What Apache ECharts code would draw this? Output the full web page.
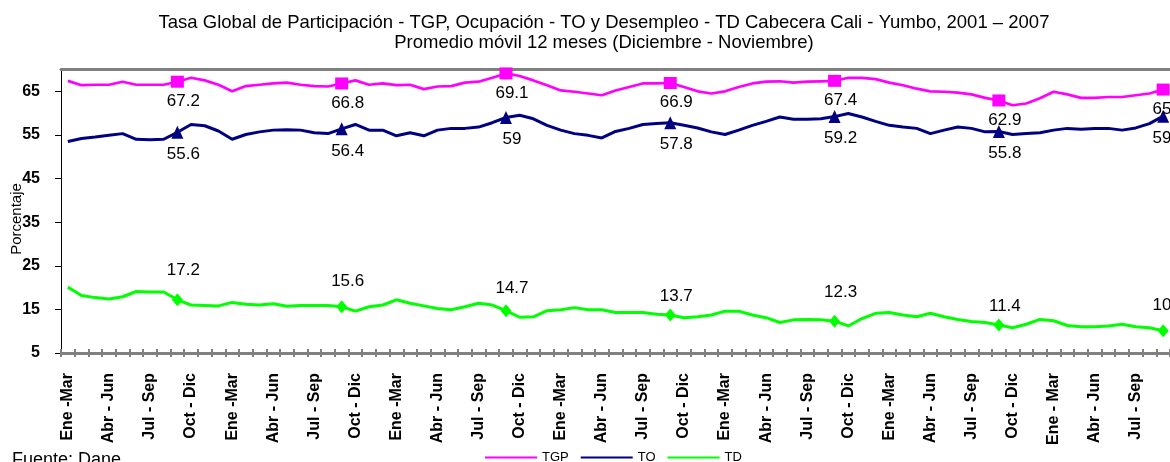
<!DOCTYPE html>
<html>
<head>
<meta charset="utf-8">
<title>TGP, TO y TD Cali - Yumbo</title>
<script src="https://cdn.jsdelivr.net/npm/echarts@6/dist/echarts.min.js"></script>
<style>
  html, body { margin: 0; padding: 0; background: #fff; }
  #myChart { width: 1170px; height: 462px; }
</style>
</head>
<body>
<div id="myChart"></div>
<script>
// trimestres moviles, ene 2001 - nov 2007
const categories = [
  'Ene -Mar', 'Feb - Abr', 'Mar - May', 'Abr - Jun', 'May - Jul', 'Jun - Ago', 'Jul - Sep', 'Ago - Oct', 'Sep - Nov', 'Oct - Dic', 'Nov - Ene', 'Dic - Feb',
  'Ene -Mar', 'Feb - Abr', 'Mar - May', 'Abr - Jun', 'May - Jul', 'Jun - Ago', 'Jul - Sep', 'Ago - Oct', 'Sep - Nov', 'Oct - Dic', 'Nov - Ene', 'Dic - Feb',
  'Ene -Mar', 'Feb - Abr', 'Mar - May', 'Abr - Jun', 'May - Jul', 'Jun - Ago', 'Jul - Sep', 'Ago - Oct', 'Sep - Nov', 'Oct - Dic', 'Nov - Ene', 'Dic - Feb',
  'Ene -Mar', 'Feb - Abr', 'Mar - May', 'Abr - Jun', 'May - Jul', 'Jun - Ago', 'Jul - Sep', 'Ago - Oct', 'Sep - Nov', 'Oct - Dic', 'Nov - Ene', 'Dic - Feb',
  'Ene -Mar', 'Feb - Abr', 'Mar - May', 'Abr - Jun', 'May - Jul', 'Jun - Ago', 'Jul - Sep', 'Ago - Oct', 'Sep - Nov', 'Oct - Dic', 'Nov - Ene', 'Dic - Feb',
  'Ene -Mar', 'Feb - Abr', 'Mar - May', 'Abr - Jun', 'May - Jul', 'Jun - Ago', 'Jul - Sep', 'Ago - Oct', 'Sep - Nov', 'Oct - Dic', 'Nov - Ene', 'Dic - Feb',
  'Ene - Mar', 'Feb - Abr', 'Mar - May', 'Abr - Jun', 'May - Jul', 'Jun - Ago', 'Jul - Sep', 'Ago - Oct', 'Sep - Nov'
]

const tgp = [
  67.4, 66.4, 66.5, 66.5, 67.2, 66.5, 66.5, 66.5, 67.2, 68.1, 67.5, 66.5,
  65.0, 66.2, 66.5, 66.8, 67.0, 66.5, 66.2, 66.1, 66.8, 67.5, 66.5, 66.8,
  66.4, 66.5, 65.5, 66.1, 66.2, 67.0, 67.2, 68.1, 69.1, 68.5, 67.5, 66.4,
  65.2, 64.9, 64.5, 64.1, 65.2, 66.0, 66.8, 66.8, 66.9, 66.0, 65.0, 64.5,
  65.0, 66.0, 66.8, 67.2, 67.3, 67.0, 67.2, 67.3, 67.4, 68.1, 68.1, 67.8,
  67.0, 66.4, 65.6, 65.0, 64.9, 64.7, 64.3, 63.5, 62.9, 61.8, 62.2, 63.4,
  64.9, 64.3, 63.5, 63.5, 63.7, 63.7, 64.1, 64.5, 65.4
]

const to = [
  53.5, 54.2, 54.5, 54.9, 55.3, 54.0, 53.9, 54.0, 55.6, 57.4, 57.1, 55.9,
  54.0, 55.1, 55.7, 56.1, 56.2, 56.1, 55.5, 55.3, 56.4, 57.4, 56.1, 56.1,
  54.8, 55.5, 54.8, 56.1, 56.5, 56.5, 56.8, 57.8, 59.0, 59.5, 58.7, 57.2,
  56.1, 55.3, 54.9, 54.3, 55.8, 56.5, 57.4, 57.6, 57.8, 57.2, 56.6, 55.7,
  55.1, 56.1, 57.2, 58.1, 59.1, 58.6, 58.6, 58.7, 59.2, 59.9, 59.1, 58.1,
  57.2, 56.8, 56.5, 55.3, 56.1, 56.8, 56.5, 55.7, 55.8, 55.1, 55.3, 55.5,
  56.1, 56.5, 56.3, 56.5, 56.5, 56.1, 56.6, 57.6, 59.3
]

const td = [
  20.1, 18.2, 17.7, 17.4, 17.9, 19.1, 19.0, 19.0, 17.2, 16.0, 15.9, 15.8,
  16.6, 16.2, 16.0, 16.3, 15.7, 15.9, 15.9, 15.9, 15.6, 14.6, 15.6, 16.0,
  17.2, 16.4, 15.8, 15.2, 14.9, 15.6, 16.4, 16.0, 14.7, 13.2, 13.3, 14.7,
  14.9, 15.4, 14.9, 14.9, 14.3, 14.3, 14.3, 13.9, 13.7, 13.1, 13.3, 13.7,
  14.6, 14.6, 13.7, 13.1, 12.0, 12.6, 12.7, 12.6, 12.3, 11.2, 12.9, 14.1,
  14.3, 13.7, 13.3, 14.1, 13.3, 12.7, 12.2, 12.0, 11.4, 10.8, 11.6, 12.7,
  12.4, 11.3, 11.0, 11.0, 11.2, 11.6, 11.0, 10.8, 10.1
]

// puntos Sep - Nov (promedio dic - nov) que llevan marcador y etiqueta
const markIdx = [8, 20, 32, 44, 56, 68, 80]
const yTicks = [5, 15, 25, 35, 45, 55, 65]
// separacion de las etiquetas de TD (estilo, no datos)
const tdLabelGap = [14, 10, 7, 4, 14, 4, 10]

const FONT = 'Liberation Sans, Arial, sans-serif'

function buildData(values, symbol, size, position, gaps, distance) {
  return values.map((v, i) => {
    const k = markIdx.indexOf(i)
    if (k < 0) return { value: v, symbol: 'none' }
    return {
      value: v,
      symbol: symbol,
      symbolSize: size,
      label: {
        show: true,
        position: position,
        distance: gaps ? gaps[k] : distance,
        offset: [6, 0],
        color: '#000',
        fontSize: 17,
        fontFamily: FONT
      }
    }
  })
}

const myChart = echarts.init(document.getElementById('myChart'))

myChart.setOption({
  animation: false,
  backgroundColor: '#fff',
  grid: {
    left: 61,
    right: -13,
    top: 69.5,
    bottom: 109
  },
  legend: {
    left: 480,
    top: 446,
    icon: 'rect',
    itemWidth: 52,
    itemHeight: 2,
    itemGap: 12,
    textStyle: { color: '#000', fontSize: 13, fontFamily: FONT },
    data: ['TGP', 'TO', 'TD']
  },
  graphic: [
    {
      type: 'text',
      style: {
        x: 604, y: 13,
        text: 'Tasa Global de Participación - TGP, Ocupación - TO y Desempleo - TD Cabecera Cali - Yumbo, 2001 – 2007\nPromedio móvil 12 meses (Diciembre - Noviembre)',
        align: 'center',
        font: '18.5px ' + FONT,
        lineHeight: 20,
        fill: '#000'
      }
    },
    {
      type: 'text',
      style: { x: 12, y: 451, text: 'Fuente: Dane', font: '18px ' + FONT, fill: '#000' }
    },
    {
      type: 'text',
      x: 17, y: 219,
      rotation: Math.PI / 2,
      style: { x: 0, y: 0, text: 'Porcentaje', align: 'center', verticalAlign: 'middle', font: '15px ' + FONT, fill: '#000' }
    }
  ],
  xAxis: [
    {
      type: 'category',
      data: categories,
      position: 'bottom',
      boundaryGap: true,
      axisLine: { lineStyle: { color: '#808080', width: 3 } },
      axisTick: { show: true, interval: 0, length: 4, lineStyle: { color: '#808080', width: 2 } },
      axisLabel: {
        interval: 2,
        rotate: 90,
        margin: 20,
        color: '#000',
        fontSize: 16,
        fontWeight: 'bold',
        fontFamily: FONT
      }
    },
    {
      // marcas hacia adentro para que crucen el eje
      type: 'category',
      data: categories,
      position: 'bottom',
      axisLine: { show: false },
      axisTick: { show: true, inside: true, interval: 0, length: 4, lineStyle: { color: '#808080', width: 2 } },
      axisLabel: { show: false }
    },
    {
      // borde superior del area de trazado
      type: 'category',
      data: categories,
      position: 'top',
      axisLine: { lineStyle: { color: '#808080', width: 3 } },
      axisTick: { show: false },
      axisLabel: { show: false }
    }
  ],
  yAxis: {
    type: 'value',
    min: 5,
    max: 70,
    splitLine: { show: false },
    axisLine: { show: true, lineStyle: { color: '#000', width: 1 } },
    axisTick: { show: true, length: 6, customValues: yTicks, lineStyle: { color: '#000' } },
    axisLabel: {
      customValues: yTicks,
      margin: 21,
      color: '#000',
      fontSize: 16,
      fontWeight: 'bold',
      fontFamily: FONT
    }
  },
  series: [
    {
      name: 'TGP',
      type: 'line',
      color: '#FF00FF',
      showSymbol: true,
      showAllSymbol: true,
      lineStyle: { width: 2.7, color: '#FF00FF' },
      itemStyle: { color: '#FF00FF' },
      data: buildData(tgp, 'rect', [13, 12], 'bottom', null, 5)
    },
    {
      name: 'TO',
      type: 'line',
      color: '#000080',
      showSymbol: true,
      showAllSymbol: true,
      lineStyle: { width: 3, color: '#000080' },
      itemStyle: { color: '#000080' },
      data: buildData(to, 'triangle', [12, 13], 'bottom', null, 7)
    },
    {
      name: 'TD',
      type: 'line',
      color: '#00FF00',
      showSymbol: true,
      showAllSymbol: true,
      lineStyle: { width: 3, color: '#00FF00' },
      itemStyle: { color: '#00FF00' },
      data: buildData(td, 'diamond', [11, 13], 'top', tdLabelGap)
    }
  ]
})

window.addEventListener('resize', () => myChart.resize())
</script>
</body>
</html>
